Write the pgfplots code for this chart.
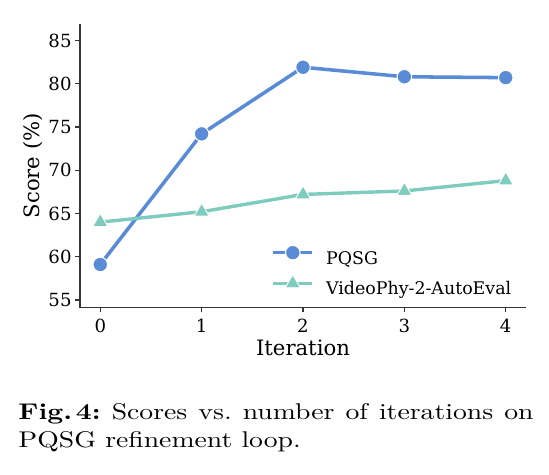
\documentclass[border=0pt]{standalone}
\usepackage{fontspec}
\usepackage{pgfplots}
\pgfplotsset{compat=1.18}
\newfontfamily\dejavu{DejaVu Serif}
\newfontfamily\capfont[FakeStretch=1.22]{Latin Modern Roman}
\definecolor{cblue}{RGB}{90,139,214}
\definecolor{cteal}{RGB}{126,204,190}
\definecolor{spine}{RGB}{51,51,51}
\begin{document}
\begin{tikzpicture}
\useasboundingbox (0,0) rectangle (233.325pt,201.45pt);
\begin{axis}[
  at={(34pt,70.76pt)}, anchor=south west,
  width=189.55pt, height=120.49pt, scale only axis,
  xmin=-0.2, xmax=4.2, ymin=54.13, ymax=86.9,
  axis x line*=bottom, axis y line*=left,
  axis line style={-, draw=spine, line width=0.64pt},
  xtick={0,1,2,3,4}, ytick={55,60,65,70,75,80,85},
  tick align=outside, major tick length=2.1pt,
  tick style={draw=spine, line width=0.5pt},
  /pgf/number format/assume math mode=true,
  ticklabel style={font=\dejavu\fontsize{7.7}{9}\selectfont, inner sep=0pt},
  xticklabel style={anchor=north, yshift=-2.8pt},
  yticklabel style={anchor=east, xshift=-1.3pt},
  xlabel={Iteration}, ylabel={Score (\%)},
  every axis x label/.style={at={(axis description cs:0.5,-0.1676)}, anchor=base,
    font=\dejavu\fontsize{9}{11}\selectfont, inner sep=0pt},
  every axis y label/.style={at={(axis description cs:-0.1054,0.5)}, rotate=90, anchor=center,
    font=\dejavu\fontsize{9}{11}\selectfont, inner sep=0pt},
  legend style={draw=none, fill=none, inner sep=0pt, row sep=2.65pt, column sep=5.1pt,
    font=\dejavu\fontsize{7.4}{9}\selectfont,
    nodes={inner sep=0pt, text height=6.2pt, text depth=1.8pt},
    at={(axis description cs:0.4283,0.2208)}, anchor=north west},
  legend cell align=left,
]
\addplot[cblue, line width=1.5pt, mark=*, mark size=3.1pt,
  mark options={fill=cblue, draw=white, line width=0.45pt},
  legend image code/.code={
    \draw[cblue, line width=1.5pt] (0pt,2.7pt) -- (16.6pt,2.7pt);
    \draw[cblue, mark=*, mark size=3.1pt, mark options={fill=cblue, draw=white, line width=0.45pt}]
      plot coordinates {(8.3pt,2.7pt)};
  }]
  coordinates {(0,59.1) (1,74.2) (2,81.9) (3,80.8) (4,80.7)};
\addlegendentry{PQSG}
\addplot[cteal, line width=1.45pt, mark=triangle*, mark size=3.7pt,
  mark options={fill=cteal, draw=white, line width=0.4pt},
  legend image code/.code={
    \draw[cteal, line width=1.45pt] (0pt,2.7pt) -- (16.6pt,2.7pt);
    \draw[cteal, mark=triangle*, mark size=3.7pt, mark options={fill=cteal, draw=white, line width=0.4pt}]
      plot coordinates {(8.3pt,2.7pt)};
  }]
  coordinates {(0,64.0) (1,65.2) (2,67.2) (3,67.6) (4,68.8)};
\addlegendentry{VideoPhy-2-AutoEval}
\end{axis}
\node[anchor=base west, inner sep=0pt] at (7.65pt,23.375pt)
  {\parbox[t]{218.9pt}{\capfont\fontsize{9.65}{12.3}\selectfont\parindent=0pt\frenchspacing
  \textbf{Fig.\,4:} Scores vs.\ number of iterations on\linebreak PQSG refinement loop.}};
\end{tikzpicture}
\end{document}
